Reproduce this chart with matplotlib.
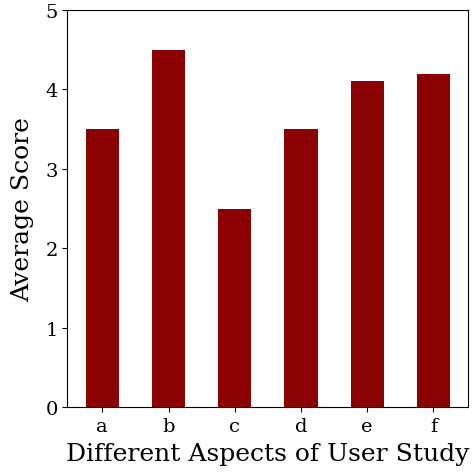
import matplotlib
matplotlib.use("Agg")
import matplotlib.pyplot as plt

aspects = ["a", "b", "c", "d", "e", "f"]
scores = [3.5, 4.5, 2.5, 3.5, 4.1, 4.2]

plt.rcParams['font.family'] = 'DejaVu Serif'

fig = plt.figure(figsize=(4.72, 4.77), dpi=100)
ax = fig.add_axes([0.143, 0.144, 0.849, 0.833])
ax.bar(aspects, scores, width=0.5, color="#8b0000")
ax.set_ylim(0, 5)
ax.set_xlabel("Different Aspects of User Study", fontsize=18, labelpad=5)
ax.set_ylabel("Average Score", fontsize=18, labelpad=8)
ax.tick_params(labelsize=14)
fig.savefig("out.png", dpi=100)
